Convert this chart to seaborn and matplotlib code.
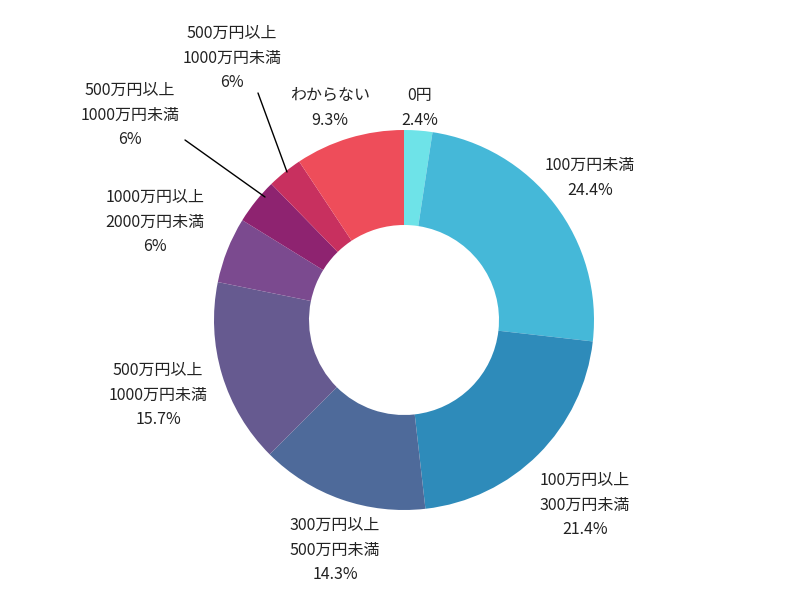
import matplotlib
matplotlib.use("Agg")
import matplotlib.pyplot as plt
import seaborn as sns

labels = ["0円\n2.4%", "100万円未満\n24.4%", "100万円以上\n300万円未満\n21.4%",
          "300万円以上\n500万円未満\n14.3%", "500万円以上\n1000万円未満\n15.7%",
          "1000万円以上\n2000万円未満\n6%", "500万円以上\n1000万円未満\n6%",
          "500万円以上\n1000万円未満\n6%", "わからない\n9.3%"]
values = [2.4, 24.4, 21.4, 14.3, 15.7, 5.6, 3.9, 3.0, 9.3]
colors = ["#6ee3e8", "#45b8d8", "#2e8bba", "#4e6a9a", "#665a90",
          "#7b4a8f", "#8e2370", "#c8305f", "#ee4d5a"]
label_px = [(420, 108), (590, 178), (585, 505), (335, 550), (158, 395),
            (155, 222), (130, 115), (232, 58), (330, 108)]
leaders = {6: ((185, 140), (265, 197)), 7: ((258, 93), (287, 172))}

sns.set_theme(style="white")
plt.rcParams['font.family'] = ['Noto Sans CJK JP', 'DejaVu Sans']

fig = plt.figure(figsize=(8, 6.04), dpi=100)
ax = fig.add_axes([0, 0, 1, 1])
cx, cy, R = 404, 320, 190
ax.pie(values, colors=colors, startangle=90, counterclock=False,
       wedgeprops=dict(width=0.5, edgecolor="none"), radius=1)
ax.set_xlim(-cx / R, (800 - cx) / R)
ax.set_ylim(-(604 - cy) / R, cy / R)
ax.set_aspect("equal")
ax.axis("off")

def tr(p):
    return ((p[0] - cx) / R, (cy - p[1]) / R)

for i, (lab, p) in enumerate(zip(labels, label_px)):
    x, y = tr(p)
    ax.text(x, y, lab, ha="center", va="center", fontsize=11.5,
            color="#222222", linespacing=1.6)
for i, (a, b) in leaders.items():
    (x1, y1), (x2, y2) = tr(a), tr(b)
    ax.plot([x1, x2], [y1, y2], color="black", lw=1)

fig.savefig("out.png", dpi=100)
